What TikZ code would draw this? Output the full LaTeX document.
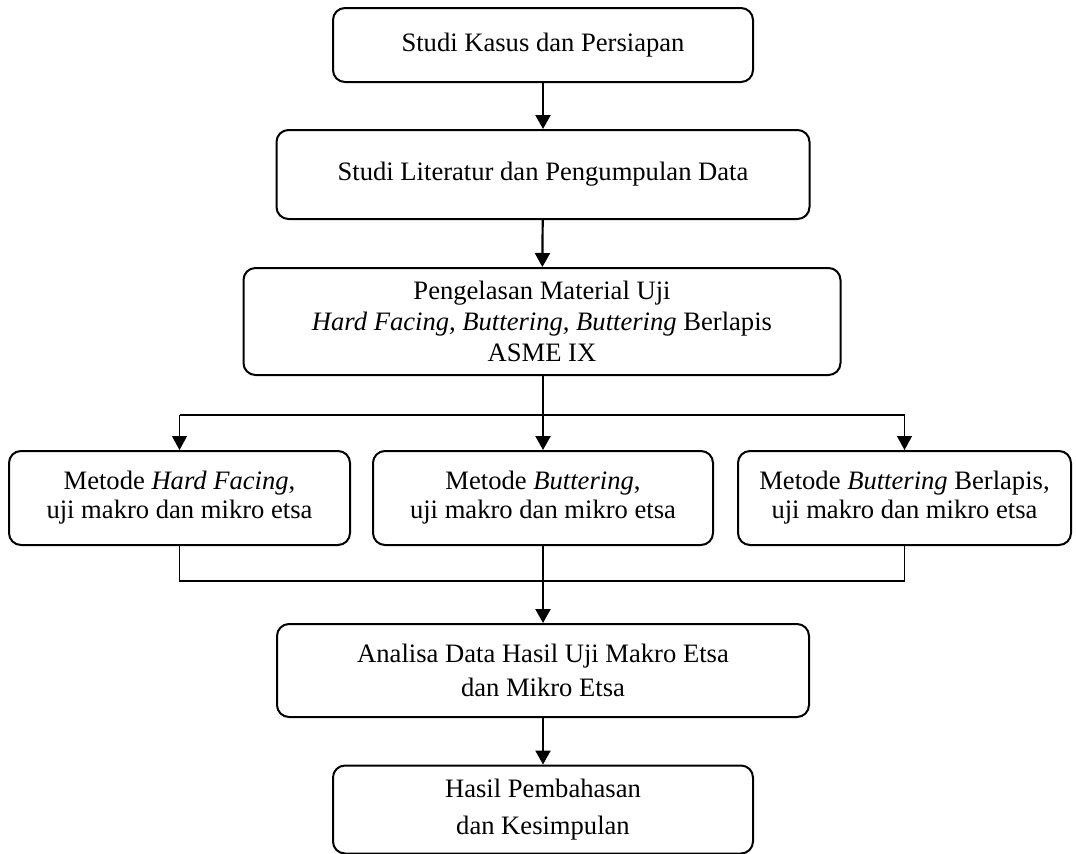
\documentclass[tikz,border=0pt]{standalone}
\usepackage{fontspec}
\setmainfont{Liberation Serif}
\usetikzlibrary{arrows.meta, positioning, calc}

\begin{document}
\begin{tikzpicture}[
    x=0.5pt, y=-0.5pt,
    stepbox/.style={
        draw, line width=1pt, rounded corners=6pt, align=center,
        font=\fontsize{13.3}{15.5}\selectfont, inner sep=2pt
    },
    flow/.style={
        line width=1.1pt, -{Triangle[length=7pt, width=7.5pt]}
    },
    branch/.style={
        line width=0.6pt
    }
]

\useasboundingbox (0,0) rectangle (1076,853);

% Main chain
\node[stepbox, minimum width=210pt, minimum height=37pt] (studi) at (543,45)
    {Studi Kasus dan Persiapan};
\node[stepbox, minimum width=266.5pt, minimum height=44.5pt] (literatur) at (543,174.5)
    {Studi Literatur dan Pengumpulan Data};
\node[stepbox, minimum width=298.5pt, minimum height=53.5pt] (pengelasan) at (542,321.5)
    {Pengelasan Material Uji\\
     \textit{Hard Facing, Buttering, Buttering} Berlapis\\
     ASME IX};

% Three methods
\node[stepbox, minimum width=170.5pt, minimum height=47pt,
      font=\fontsize{13.3}{14.5}\selectfont] (hardfacing) at (179.5,498)
    {Metode \textit{Hard Facing},\\ uji makro dan mikro etsa};
\node[stepbox, minimum width=170pt, minimum height=47pt,
      font=\fontsize{13.3}{14.5}\selectfont] (buttering) at (543,498)
    {Metode \textit{Buttering},\\ uji makro dan mikro etsa};
\node[stepbox, minimum width=166.5pt, minimum height=47pt,
      font=\fontsize{13.3}{14.5}\selectfont] (berlapis) at (904.5,498)
    {Metode \textit{Buttering} Berlapis,\\ uji makro dan mikro etsa};

% Analysis and result
\node[stepbox, minimum width=266pt, minimum height=46.5pt,
      font=\fontsize{13.3}{17}\selectfont] (analisa) at (543,670.5)
    {Analisa Data Hasil Uji Makro Etsa\\ dan Mikro Etsa};
\node[stepbox, minimum width=210pt, minimum height=44pt,
      font=\fontsize{13.3}{18.5}\selectfont] (hasil) at (543,809.5)
    {Hasil Pembahasan\\ dan Kesimpulan};

\coordinate (split) at (543,415);
\coordinate (merge) at (543,581);

% Connectors
\draw[flow] (studi) -- (literatur);
\draw[flow] (literatur) -- (pengelasan);
\draw[flow] (pengelasan.south -| buttering.north) -- (buttering);
\draw[branch] (split -| hardfacing.north) -- (split -| berlapis.north);
\draw[branch, -{Triangle[length=7pt, width=7.5pt]}] (split -| hardfacing.north) -- (hardfacing);
\draw[branch, -{Triangle[length=7pt, width=7.5pt]}] (split -| berlapis.north) -- (berlapis);
\draw[branch] (hardfacing) -- (merge -| hardfacing.south) -- (merge -| berlapis.south) -- (berlapis);
\draw[flow] (buttering) -- (analisa);
\draw[flow] (analisa) -- (hasil);

\end{tikzpicture}
\end{document}
